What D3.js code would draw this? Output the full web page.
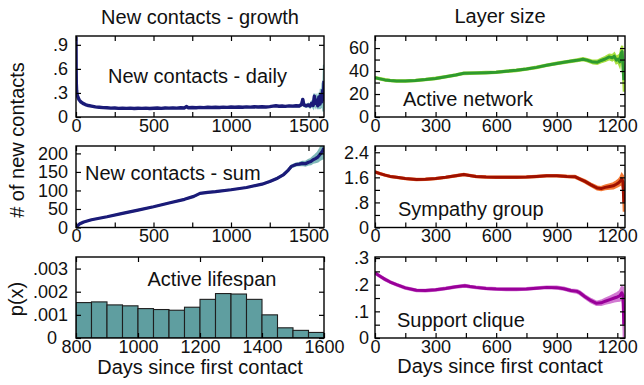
<!DOCTYPE html>
<html><head><meta charset="utf-8">
<script src="https://cdn.jsdelivr.net/npm/d3@7"></script>
<style>
body{margin:0;background:#fff;}
text{font-family:"Liberation Sans",Arial,Helvetica,sans-serif;fill:#111;}
</style></head><body>
<svg id="c" width="644" height="385"></svg>
<script>
// ---------------- DATA ----------------
// [day, value, error half-width]
const dailyContacts = [
[0,1.00,0],[1,0.60,0],[2,0.42,0],[4,0.33,0],[7,0.28,0],[12,0.25,0],[20,0.215,0],[30,0.19,0],[45,0.17,0],[60,0.155,0],[80,0.143,0],[100,0.135,0],[125,0.126,0],[150,0.121,0],[175,0.117,0],[200,0.115,0],[225,0.111,0],[250,0.113,0],[275,0.108,0],[300,0.111,0],[325,0.107,0],[350,0.11,0],[375,0.106,0],[400,0.109,0],[425,0.107,0],[450,0.111,0],[475,0.106,0],[500,0.109,0],[525,0.112,0],[550,0.108,0],[575,0.113,0],[600,0.11,0],[625,0.114,0],[650,0.111,0],[675,0.116,0],[700,0.113,0],[712,0.13,0],[725,0.115,0],[750,0.118,0],[775,0.115,0],[800,0.12,0],[825,0.117,0],[850,0.121,0],[875,0.118,0],[900,0.122,0],[925,0.119,0],[950,0.123,0],[975,0.12,0],[1000,0.124,0],[1025,0.121,0],[1050,0.125,0],[1075,0.122,0],[1100,0.126,0],[1125,0.123,0],[1150,0.127,0],[1175,0.124,0],[1200,0.128,0],[1225,0.125,0],[1250,0.13,0],[1270,0.136,0],[1290,0.14,0],[1310,0.134,0],[1330,0.137,0],[1350,0.133,0],[1375,0.138,0],[1400,0.135,0.005],[1420,0.14,0.006],[1440,0.137,0.008],[1455,0.155,0.01],[1463,0.22,0.015],[1470,0.15,0.012],[1485,0.14,0.012],[1500,0.15,0.015],[1510,0.135,0.018],[1520,0.17,0.02],[1530,0.145,0.025],[1538,0.26,0.03],[1545,0.17,0.03],[1552,0.21,0.035],[1560,0.14,0.04],[1567,0.25,0.05],[1574,0.16,0.06],[1580,0.28,0.07],[1586,0.19,0.08],[1591,0.33,0.1],[1596,0.22,0.15],[1600,0.45,0.2]
];
const cumulativeContacts = [
[0,0,0],[10,5,0],[25,10,0],[50,15,0],[100,21,0],[150,25,0],[200,29,0],[300,38,0],[400,47,0],[500,56,0],[600,66,0],[700,76,0],[760,84,0],[800,92,0],[850,95,0],[900,97,0],[1000,102,0],[1100,108,0],[1200,117,0],[1250,124,0.5],[1300,133,1],[1340,143,1],[1370,155,1.5],[1390,165,2],[1420,170,2.5],[1440,171,3],[1460,173,4],[1480,172,5],[1500,176,6],[1515,178,7],[1530,183,8],[1545,186,10],[1560,190,12],[1575,198,15],[1590,206,20],[1600,215,28]
];
const lifespanBins = [800,850,900,950,1000,1050,1100,1150,1200,1250,1300,1350,1400,1450,1500,1550];
const lifespanP = [0.00153,0.00156,0.00143,0.00139,0.00127,0.00123,0.00120,0.00133,0.00167,0.00192,0.00190,0.00167,0.00100,0.00044,0.00033,0.00024];
const activeNetwork = [
[0,34.2,0.6],[25,33.2,0.6],[50,32.3,0.6],[75,31.8,0.6],[107,31.3,0.6],[150,31.3,0.6],[200,31.8,0.6],[250,32.6,0.6],[300,33.6,0.6],[350,35,0.6],[400,36.5,0.6],[440,38,0.6],[500,38.3,0.6],[550,38.6,0.6],[600,39,0.6],[650,39.8,0.6],[700,40.6,0.6],[750,41.8,0.6],[800,43.2,0.6],[850,45,0.6],[900,46.6,0.7],[950,48,0.7],[1000,49.3,0.8],[1030,50.3,0.9],[1050,49.5,1],[1080,47.8,1.2],[1100,47.6,1.4],[1120,49.2,1.6],[1140,50.5,1.8],[1160,52.3,2],[1175,51.5,2.3],[1185,53,2.5],[1195,49.5,2.8],[1205,50.5,3],[1212,48,3.5],[1218,55,4],[1224,57,5],[1228,45,7],[1232,32,10]
];
const sympathyGroup = [
[0,1.77,0.02],[25,1.72,0.02],[50,1.67,0.02],[75,1.63,0.02],[107,1.6,0.02],[150,1.56,0.02],[205,1.53,0.02],[250,1.54,0.02],[300,1.56,0.02],[350,1.6,0.02],[400,1.65,0.02],[440,1.69,0.02],[460,1.67,0.02],[500,1.63,0.02],[550,1.61,0.02],[600,1.6,0.02],[650,1.6,0.02],[700,1.6,0.02],[750,1.61,0.02],[800,1.63,0.02],[850,1.65,0.02],[900,1.65,0.02],[950,1.63,0.025],[990,1.62,0.03],[1010,1.56,0.03],[1040,1.47,0.035],[1070,1.36,0.04],[1100,1.26,0.045],[1120,1.24,0.05],[1140,1.28,0.06],[1163,1.31,0.07],[1180,1.33,0.08],[1195,1.38,0.09],[1205,1.42,0.1],[1215,1.48,0.12],[1222,1.55,0.15],[1228,1.45,0.2],[1232,0.8,0.3]
];
const supportClique = [
[0,0.244,0.003],[25,0.232,0.003],[50,0.22,0.003],[75,0.21,0.003],[107,0.2,0.003],[150,0.188,0.003],[205,0.179,0.003],[250,0.178,0.003],[300,0.181,0.003],[350,0.186,0.003],[400,0.192,0.003],[445,0.196,0.003],[470,0.193,0.003],[500,0.19,0.003],[550,0.186,0.003],[600,0.184,0.003],[650,0.183,0.003],[700,0.183,0.003],[750,0.184,0.003],[800,0.187,0.003],[850,0.19,0.003],[900,0.189,0.004],[935,0.185,0.004],[970,0.178,0.004],[1000,0.175,0.005],[1014,0.17,0.005],[1040,0.155,0.005],[1070,0.14,0.006],[1097,0.13,0.006],[1120,0.132,0.008],[1140,0.138,0.009],[1163,0.144,0.011],[1185,0.15,0.013],[1200,0.154,0.015],[1212,0.158,0.018],[1222,0.17,0.022],[1228,0.16,0.03],[1232,0.05,0.05]
];
// tick values and labels
const leftDayTicks = [0,250,500,750,1000,1250,1500];
const leftDayLabels = ["0","","500","","1000","","1500"];
const lifespanDayTicks = [800,1000,1200,1400,1600];
const lifespanDayLabels = ["800","1000","1200","1400","1600"];
const rightDayTicks = [0,150,300,450,600,750,900,1050,1200];
const rightDayLabels = ["0","","300","","600","","900","","1200"];
const dailyTicks = [0,0.3,0.6,0.9];
const dailyLabels = ["0",".3",".6",".9"];
const sumTicks = [0,50,100,150,200];
const sumLabels = ["0","50","100","150","200"];
const lifeTicks = [0,0.001,0.002,0.003];
const lifeLabels = ["0",".001",".002",".003"];
const netTicks = [0,10,20,30,40,50,60];
const netLabels = ["0","","20","","40","","60"];
const symTicks = [0,0.4,0.8,1.2,1.6,2.0,2.4];
const symLabels = ["0","",".8","","1.6","","2.4"];
const supTicks = [0,0.05,0.1,0.15,0.2,0.25,0.3];
const supLabels = ["0","",".1","",".2","",".3"];

// ---------------- DRAW ----------------
const svg = d3.select("#c");
const FS = 20, TFS = 18;
let clipId = 0;

function panel(o){
  const x = d3.scaleLinear().domain(o.xd).range([o.x0,o.x1]);
  const y = d3.scaleLinear().domain(o.yd).range([o.y1,o.y0]);
  const g = svg.append("g");
  const id = "clip"+(clipId++);
  g.append("clipPath").attr("id",id).append("rect")
    .attr("x",o.x0).attr("y",o.y0).attr("width",o.x1-o.x0).attr("height",o.y1-o.y0);
  const pg = g.append("g").attr("clip-path",`url(#${id})`);
  if(o.series){
    const s = o.series;
    pg.append("path").datum(s)
      .attr("d", d3.area().x(d=>x(d[0])).y0(d=>y(d[1]-d[2])).y1(d=>y(d[1]+d[2])))
      .attr("fill", o.band).attr("stroke", o.band).attr("stroke-width", 2.2);
    pg.append("path").datum(s)
      .attr("d", d3.line().x(d=>x(d[0])).y(d=>y(d[1])))
      .attr("fill","none").attr("stroke",o.color).attr("stroke-width",o.lw||3).attr("stroke-linejoin","round");
  }
  if(o.bins){
    pg.selectAll("rect.bar").data(o.bins).join("rect").attr("class","bar")
      .attr("x", (d,i)=>x(d))
      .attr("width", (d,i)=>x(d+o.binW)-x(d))
      .attr("y", (d,i)=>y(o.vals[i]))
      .attr("height", (d,i)=>y(0)-y(o.vals[i]))
      .attr("fill","#5f9ea0").attr("stroke","#1e1e1e").attr("stroke-width",1.1);
  }
  const fmt = (ticks, labels) => d => labels[ticks.indexOf(d)];
  const styleAxis = sel => {
    sel.select(".domain").remove();
    sel.selectAll("line").attr("stroke","#000").attr("stroke-width",1.2);
    sel.selectAll("text").attr("font-size",TFS).attr("font-family","Liberation Sans, Arial, sans-serif").attr("fill","#111");
  };
  g.append("g").attr("transform",`translate(0,${o.y1})`)
    .call(d3.axisBottom(x).tickValues(o.xt).tickFormat(fmt(o.xt,o.xl)).tickSize(-5).tickPadding(2)).call(styleAxis);
  g.append("g").attr("transform",`translate(0,${o.y0})`)
    .call(d3.axisTop(x).tickValues(o.xt).tickFormat("").tickSize(-5)).call(styleAxis);
  const ly = g.append("g").attr("transform",`translate(${o.x0},0)`)
    .call(d3.axisLeft(y).tickValues(o.yt).tickFormat(fmt(o.yt,o.yl)).tickSize(-5).tickPadding(o.pad)).call(styleAxis);
  if(o.zeroShift){
    ly.selectAll(".tick").filter(d=>d===0).select("text").attr("dx",-o.zeroShift);
  }
  g.append("g").attr("transform",`translate(${o.x1},0)`)
    .call(d3.axisRight(y).tickValues(o.yt).tickFormat("").tickSize(-5)).call(styleAxis);
  g.append("rect").attr("x",o.x0).attr("y",o.y0).attr("width",o.x1-o.x0).attr("height",o.y1-o.y0)
    .attr("fill","none").attr("stroke","#000").attr("stroke-width",1.4);
  g.append("text").attr("x",o.lx).attr("y",o.ly).attr("font-size",FS).attr("text-anchor",o.la||"start").text(o.label);
}

const LX0 = 76, LX1 = 324, RX0 = 375, RX1 = 625;
const rows = [[36,117],[146,227.5],[257,338]];

panel({x0:LX0,x1:LX1,y0:rows[0][0],y1:rows[0][1],xd:[0,1600],yd:[0,1.01],
  xt:leftDayTicks,xl:leftDayLabels,yt:dailyTicks,yl:dailyLabels,pad:8,
  series:dailyContacts,color:"#1b1b78",band:"#8cc4c4",lw:3.4,
  label:"New contacts - daily",lx:108,ly:83});
panel({x0:LX0,x1:LX1,y0:rows[1][0],y1:rows[1][1],xd:[0,1600],yd:[0,220],
  xt:leftDayTicks,xl:leftDayLabels,yt:sumTicks,yl:sumLabels,pad:8,
  series:cumulativeContacts,color:"#1b1b78",band:"#7fb8b8",lw:3.2,
  label:"New contacts - sum",lx:85,ly:180});
panel({x0:LX0,x1:LX1,y0:rows[2][0],y1:rows[2][1],xd:[800,1600],yd:[0,0.0035],
  xt:lifespanDayTicks,xl:lifespanDayLabels,yt:lifeTicks,yl:lifeLabels,pad:8,zeroShift:11,
  bins:lifespanBins,vals:lifespanP,binW:50,
  label:"Active lifespan",lx:212,ly:286,la:"middle"});
panel({x0:RX0,x1:RX1,y0:rows[0][0],y1:rows[0][1],xd:[0,1238],yd:[0,70.5],
  xt:rightDayTicks,xl:rightDayLabels,yt:netTicks,yl:netLabels,pad:6,
  series:activeNetwork,color:"#2e9a2e",band:"#a8e040",lw:3,
  label:"Active network",lx:403,ly:106});
panel({x0:RX0,x1:RX1,y0:rows[1][0],y1:rows[1][1],xd:[0,1238],yd:[0,2.6],
  xt:rightDayTicks,xl:rightDayLabels,yt:symTicks,yl:symLabels,pad:6,
  series:sympathyGroup,color:"#9e1000",band:"#f47a38",lw:3,
  label:"Sympathy group",lx:398,ly:216});
panel({x0:RX0,x1:RX1,y0:rows[2][0],y1:rows[2][1],xd:[0,1238],yd:[0,0.304],
  xt:rightDayTicks,xl:rightDayLabels,yt:supTicks,yl:supLabels,pad:6,
  series:supportClique,color:"#990099",band:"#d27ad2",lw:3,
  label:"Support clique",lx:397,ly:327});

// titles and axis labels
svg.append("text").attr("x",200).attr("y",24).attr("text-anchor","middle").attr("font-size",FS).text("New contacts - growth");
svg.append("text").attr("x",500).attr("y",23).attr("text-anchor","middle").attr("font-size",FS).text("Layer size");
svg.append("text").attr("x",200).attr("y",374).attr("text-anchor","middle").attr("font-size",FS).text("Days since first contact");
svg.append("text").attr("x",500).attr("y",373).attr("text-anchor","middle").attr("font-size",FS).text("Days since first contact");
svg.append("text").attr("transform","translate(24,140) rotate(-90)").attr("text-anchor","middle").attr("font-size",FS).text("# of new contacts");
svg.append("text").attr("transform","translate(23,299) rotate(-90)").attr("text-anchor","middle").attr("font-size",FS).text("p(x)");
</script>
</body></html>
